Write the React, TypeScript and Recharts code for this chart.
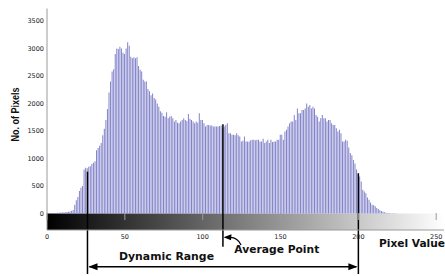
import React from 'react';
import { BarChart, Bar, XAxis, YAxis, ReferenceArea, ReferenceLine } from 'recharts';

// pixel counts for pixel values 0..255
const pixelCounts: number[] = [
  0, 0, 3, 5, 6, 8, 10, 12, 14, 16,
  18, 20, 22, 25, 30, 38, 50, 65, 160, 240,
  300, 410, 470, 500, 800, 830, 820, 850, 860, 900,
  920, 950, 1150, 1190, 1230, 1280, 1420, 1540, 1700, 1900,
  2200, 2400, 2580, 2620, 2900, 3000, 2990, 3030, 3000, 2920,
  2900, 3000, 3110, 3050, 2850, 2820, 2840, 2820, 2840, 2680,
  2610, 2580, 2430, 2400, 2400, 2260, 2220, 2150, 2180, 2100,
  2070, 2000, 1940, 1860, 1830, 1770, 1760, 1840, 1730, 1760,
  1770, 1730, 1670, 1700, 1650, 1640, 1670, 1700, 1730, 1700,
  1680, 1810, 1720, 1700, 1670, 1640, 1670, 1650, 1820, 1700,
  1700, 1640, 1580, 1610, 1610, 1600, 1600, 1580, 1580, 1580,
  1580, 1590, 1600, 1550, 1580, 1610, 1640, 1460, 1460, 1430,
  1430, 1420, 1460, 1420, 1400, 1310, 1320, 1400, 1310, 1310,
  1310, 1330, 1340, 1340, 1330, 1340, 1340, 1310, 1310, 1360,
  1280, 1310, 1340, 1280, 1340, 1300, 1310, 1310, 1340, 1340,
  1430, 1430, 1340, 1490, 1520, 1580, 1640, 1670, 1670, 1790,
  1700, 1910, 1820, 1820, 1880, 1880, 1910, 2000, 1940, 1970,
  1910, 1940, 1910, 1790, 1760, 1670, 1730, 1790, 1730, 1730,
  1670, 1700, 1700, 1640, 1610, 1610, 1550, 1490, 1520, 1460,
  1310, 1310, 1340, 1320, 1200, 1100, 1060, 970, 910, 800,
  730, 670, 580, 430, 400, 370, 290, 250, 200, 160,
  150, 130, 100, 80, 60, 45, 30, 22, 15, 10,
  8, 6, 5, 4, 3, 2, 2, 1, 0, 0,
  0, 0, 0, 0, 0, 0, 0, 0, 0, 0,
  0, 0, 0, 0, 0, 0, 0, 0, 0, 0,
  0, 0, 0, 0, 0, 0,
];

const xTicks = [0, 50, 100, 150, 200, 250];
const yTicks = [0, 500, 1000, 1500, 2000, 2500, 3000, 3500];
const xDomain: [number, number] = [0, 255];
const yDomain: [number, number] = [-300, 3725];

// annotation markers (pixel value, count at marker top)
const dynamicLow = { x: 26, top: 760 };
const averagePoint = { x: 113, top: 1620 };
const dynamicHigh = { x: 200, top: 730 };
const lineBottom = -1100;
const averageBottom = -603;
const rangeArrowLevel = -967;

const data = pixelCounts.map((count, value) => ({ value, count }));

const FONT = '"DejaVu Sans", Verdana, sans-serif';
const AXIS = '#9a9a9a';

const BottomTick = (props: any) => {
  const { x, y, payload } = props;
  return (
    <g>
      <line x1={x} x2={x} y1={y - 17} y2={y - 10} stroke={AXIS} strokeWidth={1} />
      <text x={x} y={y + 9} textAnchor="middle" fontSize={6.5} fontFamily={FONT} fill="#222">
        {payload.value}
      </text>
    </g>
  );
};

const RangeArrow = (props: any) => {
  const { x1, x2, y1 } = props;
  const l = Math.min(x1, x2);
  const r = Math.max(x1, x2);
  return (
    <g>
      <line x1={l + 2} x2={r - 2} y1={y1} y2={y1} stroke="#000" strokeWidth={1.4} />
      <polygon points={`${l + 1},${y1} ${l + 10},${y1 - 3.5} ${l + 10},${y1 + 3.5}`} fill="#000" />
      <polygon points={`${r - 1},${y1} ${r - 10},${y1 - 3.5} ${r - 10},${y1 + 3.5}`} fill="#000" />
    </g>
  );
};

export default function App() {
  return (
    <div style={{ position: 'absolute', left: 0, top: 0, width: 445, height: 276, background: '#fff' }}>
      <BarChart
        width={445}
        height={276}
        data={data}
        margin={{ top: 8.5, right: 1, bottom: 26, left: 0 }}
        barCategoryGap={0}
      >
        <defs>
          <linearGradient id="grayRamp" x1="0" y1="0" x2="1" y2="0">
            <stop offset="0%" stopColor="#000000" />
            <stop offset="100%" stopColor="#ffffff" />
          </linearGradient>
        </defs>
        <XAxis
          dataKey="value"
          type="number"
          domain={xDomain}
          ticks={xTicks}
          allowDataOverflow
          height={20}
          tickSize={0}
          tickMargin={0}
          tickLine={false}
          axisLine={{ stroke: AXIS }}
          tick={<BottomTick />}
          interval={0}
        />
        <XAxis
          xAxisId="top"
          orientation="top"
          type="number"
          domain={xDomain}
          ticks={xTicks}
          allowDataOverflow
          mirror
          height={0}
          tickSize={3}
          tick={false}
          tickLine={{ stroke: AXIS }}
          axisLine={{ stroke: AXIS }}
          interval={0}
        />
        <YAxis
          type="number"
          domain={yDomain}
          ticks={yTicks}
          allowDataOverflow
          width={47}
          tickSize={0}
          tickMargin={3}
          tickLine={false}
          axisLine={{ stroke: AXIS }}
          tick={{ fontSize: 6.5, fontFamily: FONT, fill: '#222' }}
          interval={0}
        />
        <YAxis
          yAxisId="leftIn"
          orientation="left"
          type="number"
          domain={yDomain}
          ticks={yTicks}
          allowDataOverflow
          mirror
          width={0}
          tickSize={3}
          tick={false}
          tickLine={{ stroke: AXIS }}
          axisLine={false}
          interval={0}
        />
        <YAxis
          yAxisId="right"
          orientation="right"
          type="number"
          domain={yDomain}
          ticks={yTicks}
          allowDataOverflow
          mirror
          width={0}
          tickSize={3}
          tick={false}
          tickLine={{ stroke: AXIS }}
          axisLine={{ stroke: AXIS }}
          interval={0}
        />
        <ReferenceArea
          x1={xDomain[0]}
          x2={xDomain[1]}
          y1={yDomain[0]}
          y2={0}
          fill="url(#grayRamp)"
          fillOpacity={1}
          stroke="none"
          ifOverflow="visible"
        />
        <Bar dataKey="count" fill="#8282ca" barSize={1} isAnimationActive={false} />
        <ReferenceLine
          segment={[{ x: dynamicLow.x, y: dynamicLow.top }, { x: dynamicLow.x, y: lineBottom }]}
          stroke="#000"
          strokeWidth={1.5}
          ifOverflow="visible"
        />
        <ReferenceLine
          segment={[{ x: averagePoint.x, y: averagePoint.top }, { x: averagePoint.x, y: averageBottom }]}
          stroke="#000"
          strokeWidth={1.5}
          ifOverflow="visible"
        />
        <ReferenceLine
          segment={[{ x: dynamicHigh.x, y: dynamicHigh.top }, { x: dynamicHigh.x, y: lineBottom }]}
          stroke="#000"
          strokeWidth={1.5}
          ifOverflow="visible"
        />
        <ReferenceLine
          segment={[{ x: dynamicLow.x, y: rangeArrowLevel }, { x: dynamicHigh.x, y: rangeArrowLevel }]}
          stroke="#000"
          ifOverflow="visible"
          shape={<RangeArrow />}
        />
      </BarChart>
      <svg
        width={445}
        height={276}
        style={{ position: 'absolute', left: 0, top: 0, pointerEvents: 'none' }}
      >
        <text
          transform="translate(18.5,114.5) rotate(-90)"
          textAnchor="middle"
          fontSize={11}
          fontWeight="bold"
          fontFamily='"Liberation Sans Narrow", "Liberation Sans", Arial, sans-serif'
          textLength={54}
          lengthAdjust="spacingAndGlyphs"
          fill="#111"
        >
          No. of Pixels
        </text>
        <text x={379} y={246.5} fontSize={10} fontWeight="bold" fontFamily={FONT} textLength={66} lengthAdjust="spacingAndGlyphs" fill="#111">
          Pixel Value
        </text>
        <text x={234.3} y={253} fontSize={10.5} fontWeight="bold" fontFamily={FONT} textLength={85} lengthAdjust="spacingAndGlyphs" fill="#111">
          Average Point
        </text>
        <text x={119} y={260} fontSize={10} fontWeight="bold" fontFamily={FONT} textLength={95} lengthAdjust="spacingAndGlyphs" fill="#111">
          Dynamic Range
        </text>
        <path d="M241,245 Q238,237.5 230,237.3" stroke="#000" strokeWidth={1.3} fill="none" />
        <polygon points="223.5,237.3 231.5,234.3 231,240.3" fill="#000" />
      </svg>
    </div>
  );
}
